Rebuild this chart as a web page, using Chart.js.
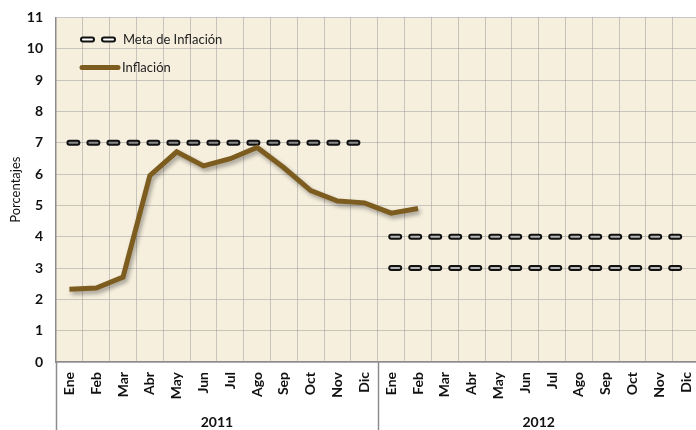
<!DOCTYPE html>
<html>
<head>
<meta charset="utf-8">
<script src="https://cdn.jsdelivr.net/npm/chart.js@4"></script>
<style>
    html, body { margin: 0; padding: 0; background: #ffffff; overflow: hidden; }
    #wrap { width: 713px; height: 434px; margin-top: -4px; }
</style>
</head>
<body>
<div id="wrap"><canvas id="chart" width="713" height="434"></canvas></div>
<script>
// Data
const months = ["Ene", "Feb", "Mar", "Abr", "May", "Jun", "Jul", "Ago", "Sep", "Oct", "Nov", "Dic",
                "Ene", "Feb", "Mar", "Abr", "May", "Jun", "Jul", "Ago", "Sep", "Oct", "Nov", "Dic"];
const years = ["2011", "2012"];
const inflacion = [2.32, 2.36, 2.71, 5.95, 6.71, 6.26, 6.49, 6.85, 6.2, 5.47, 5.14, 5.08,
                   4.75, 4.9, null, null, null, null, null, null, null, null, null, null];
const meta2011 = [7, 7, 7, 7, 7, 7, 7, 7, 7, 7, 7, 7,
                  null, null, null, null, null, null, null, null, null, null, null, null];
const meta2012Sup = [null, null, null, null, null, null, null, null, null, null, null, null,
                     4, 4, 4, 4, 4, 4, 4, 4, 4, 4, 4, 4];
const meta2012Inf = [null, null, null, null, null, null, null, null, null, null, null, null,
                     3, 3, 3, 3, 3, 3, 3, 3, 3, 3, 3, 3];
const yTicks = [0, 1, 2, 3, 4, 5, 6, 7, 8, 9, 10, 11];

const FONT = "Lato, 'Open Sans', sans-serif";
const BROWN = "#7d5d1f";
const DASH = [8, 12];

// capsule dashes: black outline + light core
function metaOutline(data) {
    return {
        data: data, borderColor: "#111111", borderWidth: 6, borderDash: DASH,
        borderCapStyle: "round", pointRadius: 0, fill: false, order: 3, spanGaps: false
    };
}
function metaCore(data, color) {
    return {
        data: data, borderColor: color, borderWidth: 2, borderDash: DASH,
        borderCapStyle: "round", pointRadius: 0, fill: false, order: 2, spanGaps: false
    };
}

const plotBackground = {
    id: "plotBackground",
    beforeDraw(chart) {
        const { ctx, chartArea: a } = chart;
        ctx.save();
        ctx.fillStyle = "#f6efde";
        ctx.fillRect(a.left, a.top, a.right - a.left, a.bottom - a.top);
        ctx.restore();
    }
};

// drop shadow under the inflation line
const lineShadow = {
    id: "lineShadow",
    beforeDatasetDraw(chart, args) {
        if (args.index !== 0) return;
        const ctx = chart.ctx;
        ctx.save();
        ctx.shadowColor = "rgba(0,0,0,0.35)";
        ctx.shadowBlur = 4;
        ctx.shadowOffsetX = 2;
        ctx.shadowOffsetY = 3;
    },
    afterDatasetDraw(chart, args) {
        if (args.index !== 0) return;
        chart.ctx.restore();
    }
};

// year groups under month labels, plus legend inside plot
const yearAxis = {
    id: "yearAxis",
    afterDraw(chart) {
        const { ctx, chartArea: a } = chart;
        const x = chart.scales.x;
        const step = x.getPixelForValue(1) - x.getPixelForValue(0);
        ctx.save();
        ctx.strokeStyle = "#8c8c8c";
        ctx.lineWidth = 1.5;
        for (let i = 0; i <= years.length; i++) {
            const px = Math.round(x.getPixelForValue(i * 12) - step / 2) + 0.5;
            ctx.beginPath();
            ctx.moveTo(px, a.bottom);
            ctx.lineTo(px, chart.height);
            ctx.stroke();
        }
        ctx.fillStyle = "#111";
        ctx.font = "bold 14px " + FONT;
        ctx.textAlign = "center";
        ctx.textBaseline = "middle";
        years.forEach((y, i) => {
            const cx = (x.getPixelForValue(i * 12) + x.getPixelForValue(i * 12 + 11)) / 2;
            ctx.fillText(y, cx, chart.height - 8);
        });

        // legend
        const lx = a.left + 24;
        const ly = a.top + 22;
        ctx.font = "13px " + FONT;
        ctx.textAlign = "left";
        ctx.fillStyle = "#222";
        ctx.fillText("Meta de Inflación", lx + 43, ly);
        ctx.fillText("Inflación", lx + 42, ly + 28);
        ctx.lineCap = "round";
        [[lx + 3, lx + 12], [lx + 24, lx + 33]].forEach(seg => {
            ctx.strokeStyle = "#111";
            ctx.lineWidth = 6;
            ctx.beginPath(); ctx.moveTo(seg[0], ly); ctx.lineTo(seg[1], ly); ctx.stroke();
            ctx.strokeStyle = "#ffffff";
            ctx.lineWidth = 2;
            ctx.beginPath(); ctx.moveTo(seg[0], ly); ctx.lineTo(seg[1], ly); ctx.stroke();
        });
        ctx.strokeStyle = BROWN;
        ctx.lineWidth = 5;
        ctx.beginPath(); ctx.moveTo(lx + 2, ly + 28); ctx.lineTo(lx + 38, ly + 28); ctx.stroke();
        ctx.restore();
    }
};

new Chart(document.getElementById("chart").getContext("2d"), {
    type: "line",
    data: {
        labels: months,
        datasets: [
            {
                label: "Inflación", data: inflacion, borderColor: BROWN, borderWidth: 5,
                pointRadius: 0, fill: false, order: 1, borderJoinStyle: "miter", borderCapStyle: "butt"
            },
            metaCore(meta2011, "#8a8a8a"),
            metaCore(meta2012Sup, "#b4b4b4"),
            metaCore(meta2012Inf, "#b4b4b4"),
            metaOutline(meta2011),
            metaOutline(meta2012Sup),
            metaOutline(meta2012Inf)
        ]
    },
    options: {
        responsive: false,
        devicePixelRatio: 1,
        animation: false,
        layout: { padding: { top: 8, right: 0, left: 0, bottom: 0 } },
        plugins: { legend: { display: false }, tooltip: { enabled: false } },
        scales: {
            x: {
                offset: true,
                grid: { offset: true, color: "#9a9a9a", lineWidth: 1, drawTicks: false },
                border: { color: "#8c8c8c", width: 1.5, dash: [1, 1] },
                ticks: {
                    autoSkip: false, minRotation: 90, maxRotation: 90, padding: 10,
                    color: "#111", font: { family: FONT, size: 14, weight: "bold" }
                },
                afterFit(scale) { scale.height = 68; }
            },
            y: {
                min: 0, max: 11,
                afterBuildTicks(scale) { scale.ticks = yTicks.map(v => ({ value: v })); },
                grid: { color: "#9a9a9a", lineWidth: 1, drawTicks: false },
                border: { color: "#8c8c8c", width: 1.5, dash: [1, 1] },
                ticks: {
                    padding: 13, color: "#111",
                    font: { family: FONT, size: 14, weight: "bold" }
                },
                title: {
                    display: true, text: "Porcentajes", color: "#111", padding: { top: 8, bottom: 0 },
                    font: { family: FONT, size: 13 }
                },
                afterFit(scale) { scale.width = 56; }
            }
        }
    },
    plugins: [plotBackground, lineShadow, yearAxis]
});
</script>
</body>
</html>
